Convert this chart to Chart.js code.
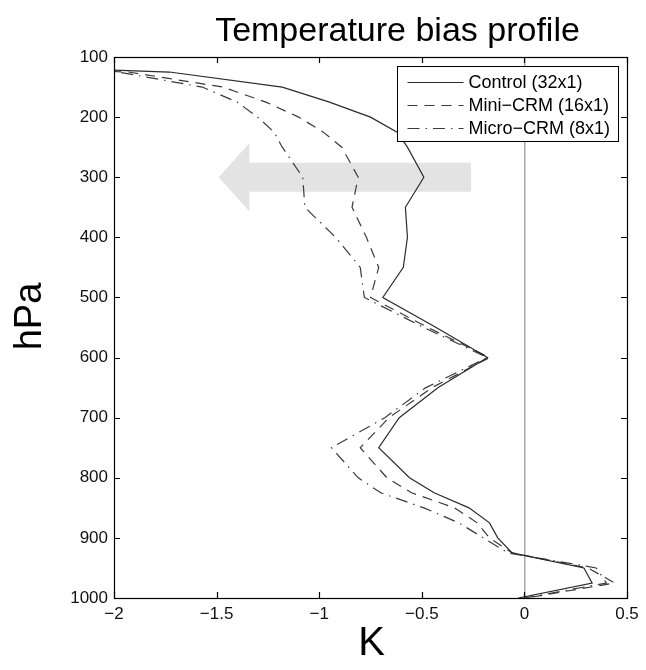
<!DOCTYPE html>
<html>
<head>
<meta charset="utf-8">
<script src="https://cdn.jsdelivr.net/npm/chart.js@4.4.1/dist/chart.umd.min.js"></script>
<style>
  body { margin: 0; background: #fff; }
</style>
</head>
<body>
<canvas id="myChart" width="646" height="670"></canvas>
<script>
// pressure levels (hPa), shared by all three runs
var pressure = [100,125,150,175,200,225,250,300,350,400,450,500,550,600,650,700,750,800,825,850,875,900,925,950,975,1000];
// temperature bias (K)
var control  = [-3.8,-1.73,-1.18,-0.95,-0.75,-0.62,-0.57,-0.49,-0.58,-0.57,-0.59,-0.69,-0.43,-0.18,-0.42,-0.61,-0.71,-0.56,-0.44,-0.27,-0.17,-0.13,-0.06,0.29,0.33,-0.03];
var miniCrm  = [-4.0,-1.93,-1.47,-1.26,-1.10,-0.98,-0.89,-0.81,-0.84,-0.77,-0.71,-0.75,-0.47,-0.17,-0.45,-0.66,-0.80,-0.67,-0.55,-0.34,-0.23,-0.17,-0.06,0.31,0.44,0.01];
var microCrm = [-4.2,-1.98,-1.57,-1.40,-1.30,-1.22,-1.18,-1.08,-1.07,-0.92,-0.80,-0.78,-0.49,-0.18,-0.48,-0.68,-0.94,-0.81,-0.70,-0.49,-0.32,-0.20,-0.08,0.35,0.40,0.00];
// axis ticks
var kTicks = [-2,-1.5,-1,-0.5,0,0.5];
var hpaTicks = [100,200,300,400,500,600,700,800,900,1000];
// grey arrow, in data units: tail K, head base K, tip K, centre hPa, shaft and head half heights (hPa)
var arrowK = [-0.26, -1.34, -1.49];
var arrowP = 300, arrowShaft = 24, arrowHead = 57;

var FONT = "'Liberation Sans', Arial, Helvetica, sans-serif";

function pts(vals) {
  return vals.map(function (v, i) { return { x: v, y: pressure[i] }; });
}
function minus(v) { return String(v).replace('-', '\u2212'); }

Chart.defaults.font.family = FONT;
Chart.defaults.color = '#111';

var frame = {
  id: 'frame',
  beforeDatasetsDraw: function (chart) {
    var c = chart.ctx, x = chart.scales.x, y = chart.scales.y;
    c.save();
    c.fillStyle = '#e3e3e3';
    c.beginPath();
    c.moveTo(x.getPixelForValue(arrowK[0]), y.getPixelForValue(arrowP - arrowShaft));
    c.lineTo(x.getPixelForValue(arrowK[1]), y.getPixelForValue(arrowP - arrowShaft));
    c.lineTo(x.getPixelForValue(arrowK[1]), y.getPixelForValue(arrowP - arrowHead));
    c.lineTo(x.getPixelForValue(arrowK[2]), y.getPixelForValue(arrowP));
    c.lineTo(x.getPixelForValue(arrowK[1]), y.getPixelForValue(arrowP + arrowHead));
    c.lineTo(x.getPixelForValue(arrowK[1]), y.getPixelForValue(arrowP + arrowShaft));
    c.lineTo(x.getPixelForValue(arrowK[0]), y.getPixelForValue(arrowP + arrowShaft));
    c.closePath();
    c.fill();
    c.restore();
  },
  afterDatasetsDraw: function (chart) {
    var c = chart.ctx, a = chart.chartArea, x = chart.scales.x, y = chart.scales.y;
    c.save();
    c.strokeStyle = '#000';
    c.lineWidth = 1.2;
    c.beginPath();
    kTicks.forEach(function (v) {
      var px = Math.round(x.getPixelForValue(v)) + 0.5;
      c.moveTo(px, a.top); c.lineTo(px, a.top + 6);
      c.moveTo(px, a.bottom); c.lineTo(px, a.bottom - 6);
    });
    hpaTicks.forEach(function (v) {
      var py = Math.round(y.getPixelForValue(v)) + 0.5;
      c.moveTo(a.left, py); c.lineTo(a.left + 6, py);
      c.moveTo(a.right, py); c.lineTo(a.right - 6, py);
    });
    c.stroke();
    c.strokeRect(Math.round(a.left) + 0.5, Math.round(a.top) + 0.5,
                 Math.round(a.right - a.left), Math.round(a.bottom - a.top));

    // titles
    c.fillStyle = '#000';
    c.textAlign = 'center';
    c.textBaseline = 'alphabetic';
    c.font = '34px ' + FONT;
    c.fillText('Temperature bias profile', (a.left + a.right) / 2 + 27, 41);
    c.textBaseline = 'middle';
    c.font = '40px ' + FONT;
    c.fillText('K', (a.left + a.right) / 2 + 1, 644);
    c.save();
    c.translate(31, (a.top + a.bottom) / 2 - 11);
    c.rotate(-Math.PI / 2);
    c.font = '38px ' + FONT;
    c.fillText('hPa', 0, 0);
    c.restore();

    // legend box, top right inside the axes
    var w = 221, h = 75;
    var bx = Math.round(a.right - 9 - w) + 0.5, by = Math.round(a.top + 9) + 0.5;
    c.fillStyle = '#fff';
    c.fillRect(bx, by, w, h);
    c.lineWidth = 1;
    c.strokeRect(bx, by, w, h);
    c.font = '18px ' + FONT;
    c.textAlign = 'left';
    c.textBaseline = 'middle';
    chart.data.datasets.forEach(function (ds, i) {
      var ry = by + 16 + i * 23;
      c.strokeStyle = ds.borderColor;
      c.lineWidth = ds.borderWidth;
      c.setLineDash(ds.borderDash || []);
      c.beginPath();
      c.moveTo(bx + 10, ry); c.lineTo(bx + 66, ry);
      c.stroke();
      c.setLineDash([]);
      c.fillStyle = '#000';
      c.fillText(ds.label, bx + 71, ry + 1);
    });
    c.restore();
  }
};

var ctx = document.getElementById('myChart');

var myChart = new Chart(ctx, {
  type: 'scatter',
  data: {
    datasets: [
      {
        label: 'Control (32x1)',
        data: pts(control),
        borderColor: '#2b2b2b',
        borderWidth: 1.2
      },
      {
        label: 'Mini\u2212CRM (16x1)',
        data: pts(miniCrm),
        borderColor: '#3a3a3a',
        borderWidth: 1.2,
        borderDash: [10, 7]
      },
      {
        label: 'Micro\u2212CRM (8x1)',
        data: pts(microCrm),
        borderColor: '#3a3a3a',
        borderWidth: 1.2,
        borderDash: [12, 6, 1.5, 6]
      }
    ]
  },
  options: {
    responsive: false,
    animation: false,
    showLine: true,
    elements: { point: { radius: 0, hoverRadius: 0 }, line: { tension: 0 } },
    layout: { padding: { top: 57, left: 0, right: 19, bottom: 0 } },
    plugins: {
      legend: { display: false },
      tooltip: { enabled: false },
      title: { display: false }
    },
    scales: {
      x: {
        type: 'linear',
        min: -2,
        max: 0.5,
        afterFit: function (s) { s.height = 72; },
        afterBuildTicks: function (s) { s.ticks = kTicks.map(function (v) { return { value: v }; }); },
        ticks: { font: { size: 17 }, color: '#111', padding: 6, maxRotation: 0, callback: minus },
        grid: {
          drawTicks: false,
          lineWidth: 1.5,
          color: function (c) { return c.tick && c.tick.value === 0 ? '#a8a8a8' : 'rgba(0,0,0,0)'; }
        },
        border: { display: false }
      },
      y: {
        type: 'linear',
        min: 100,
        max: 1000,
        reverse: true,
        afterFit: function (s) { s.width = 114; },
        afterBuildTicks: function (s) { s.ticks = hpaTicks.map(function (v) { return { value: v }; }); },
        ticks: { font: { size: 17 }, color: '#111', padding: 6, callback: function (v) { return String(v); } },
        grid: { display: false, drawTicks: false },
        border: { display: false }
      }
    }
  },
  plugins: [frame]
});
</script>
</body>
</html>
